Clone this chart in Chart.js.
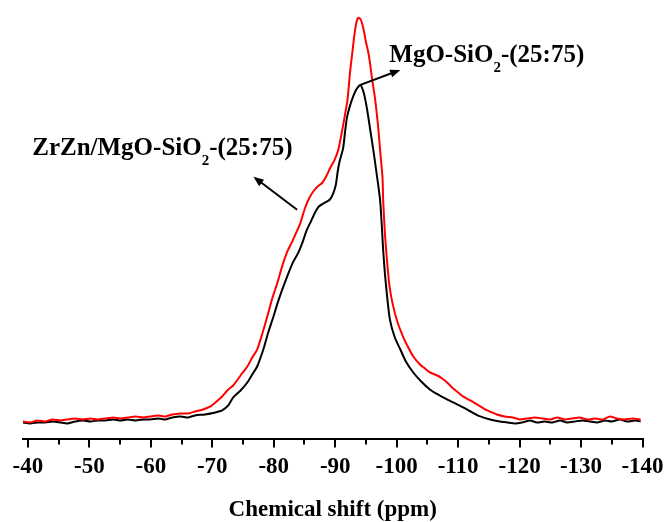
<!DOCTYPE html>
<html>
<head>
<meta charset="utf-8">
<script src="https://cdn.jsdelivr.net/npm/chart.js@4.4.1/dist/chart.umd.min.js"></script>
<style>
  html, body { margin: 0; padding: 0; background: #fff; }
  canvas { display: block; }
</style>
</head>
<body>
<canvas id="nmrChart" width="666" height="522"></canvas>
<script>
// tick labels on the chemical shift axis (ppm)
const majorTicks = [-40, -50, -60, -70, -80, -90, -100, -110, -120, -130, -140]
const minorTicks = [-45, -55, -65, -75, -85, -95, -105, -115, -125, -135]

// ZrZn/MgO-SiO2-(25:75), red trace
const redShift = [-39.1, -40.4, -41.5, -42.8, -44.0, -45.3, -46.4, -47.7, -48.9, -50.2, -51.3, -52.6, -53.9, -55.0, -56.3, -57.5, -58.8, -59.9, -61.2, -62.4, -63.5, -64.8, -66.1, -67.2, -68.5, -69.7, -70.7, -71.6, -72.6, -73.4, -74.6, -75.7, -76.5, -77.3, -78.1, -78.9, -79.7, -80.6, -81.4, -82.2, -83.0, -83.8, -84.3, -85.1, -85.8, -86.4, -87.1, -87.9, -88.5, -89.2, -89.9, -90.5, -91.0, -91.5, -92.0, -92.4, -92.8, -93.1, -93.4, -93.7, -94.1, -94.4, -94.7, -95.0, -95.4, -95.7, -96.0, -96.4, -96.7, -97.0, -97.3, -97.7, -97.8, -98.1, -98.5, -98.8, -99.3, -100.1, -101.1, -101.9, -102.7, -103.8, -104.6, -105.4, -106.6, -107.4, -108.2, -109.2, -110.0, -110.8, -112.0, -112.8, -113.6, -114.7, -115.5, -116.3, -117.6, -118.9, -120.0, -121.2, -122.5, -123.7, -125.0, -126.1, -127.4, -128.5, -129.8, -131.0, -132.3, -133.6, -134.7, -135.8, -137.1, -138.4, -139.7]
const redIntensity = [1, 0, 2, 1, 3, 2, 3, 4, 3, 4, 3, 4, 5, 4, 5, 6, 5, 6, 7, 6, 8, 9, 9, 11, 13, 16, 21, 26, 33, 37, 47, 56, 65, 73, 88, 105, 123, 140, 157, 171, 181, 192, 199, 215, 225, 231, 236, 240, 246, 255, 263, 273, 288, 305, 323, 350, 371, 387, 399, 405, 404, 399, 391, 381, 370, 358, 344, 328, 313, 295, 273, 245, 223, 188, 157, 138, 120, 101, 85, 75, 66, 58, 54, 50, 47, 44, 40, 34, 30, 26, 22, 19, 16, 12, 10, 8, 6, 5, 3, 4, 5, 4, 3, 5, 3, 4, 5, 3, 4, 3, 6, 4, 3, 4, 3]

// MgO-SiO2-(25:75), black trace
const blackShift = [-39.1, -40.4, -41.5, -42.8, -44.0, -45.3, -46.4, -47.7, -48.9, -50.2, -51.3, -52.6, -53.9, -55.0, -56.3, -57.5, -58.8, -59.9, -61.2, -62.4, -63.5, -64.8, -66.1, -67.2, -68.8, -70.5, -71.6, -72.6, -73.4, -74.6, -75.7, -76.5, -77.3, -78.3, -79.1, -79.9, -80.7, -81.5, -82.3, -83.1, -84.0, -84.6, -85.4, -86.1, -86.7, -87.3, -88.0, -88.6, -89.1, -89.6, -90.1, -90.4, -90.7, -91.3, -91.6, -91.9, -92.4, -92.9, -93.4, -94.1, -94.6, -94.9, -95.2, -95.7, -96.2, -96.7, -97.3, -97.6, -97.8, -98.1, -98.5, -98.9, -99.7, -100.6, -101.5, -102.7, -104.0, -105.4, -106.7, -108.2, -109.5, -110.8, -112.3, -113.6, -115.2, -116.8, -118.0, -119.3, -120.4, -121.7, -122.8, -124.1, -125.3, -126.6, -127.7, -129.0, -130.2, -131.5, -132.6, -133.9, -135.0, -136.3, -137.5, -138.8, -139.7]
const blackIntensity = [0, -1, 0, 0, 1, 0, -1, 1, 2, 1, 2, 2, 3, 2, 3, 2, 3, 3, 4, 3, 5, 6, 5, 7, 8, 10, 12, 17, 25, 32, 40, 48, 56, 73, 90, 105, 121, 135, 148, 160, 170, 179, 193, 202, 210, 216, 219, 221, 223, 228, 238, 251, 261, 275, 291, 305, 317, 326, 333, 338, 331, 323, 313, 293, 273, 251, 223, 195, 173, 148, 123, 103, 85, 73, 61, 50, 41, 33, 28, 23, 19, 15, 10, 6, 3, 1, 0, -1, 0, 2, 0, 1, 0, 2, 0, 1, 2, 1, 0, 2, 1, 3, 1, 2, 1]

// annotation labels: [main, subscript, tail], anchored in data units
const labelParts = [
  ['ZrZn/MgO-SiO', '2', '-(25:75)'],
  ['MgO-SiO', '2', '-(25:75)']
]
const labelAnchors = [[-40.7, 268], [-98.8, 361]]
// arrows: [fromShift, fromIntensity, toShift, toIntensity]
const arrows = [
  [-83.8, 213, -76.7, 246],
  [-94.1, 338, -100.6, 353]
]

const serif = '"Liberation Serif", "Times New Roman", serif'

const toPoints = (xs, ys) => xs.map((v, i) => ({ x: v, y: ys[i] }))

const minorTickPlugin = {
  id: 'minorTicks',
  afterDraw(chart) {
    const { ctx, chartArea, scales: { x } } = chart
    ctx.save()
    ctx.strokeStyle = '#000'
    ctx.lineWidth = 2
    minorTicks.forEach(v => {
      const px = Math.round(x.getPixelForValue(v))
      ctx.beginPath()
      ctx.moveTo(px, chartArea.bottom)
      ctx.lineTo(px, chartArea.bottom + 5)
      ctx.stroke()
    })
    ctx.restore()
  }
}

function drawArrow(ctx, x1, y1, x2, y2) {
  const ang = Math.atan2(y2 - y1, x2 - x1)
  const head = 11
  ctx.beginPath()
  ctx.moveTo(x1, y1)
  ctx.lineTo(x2 - Math.cos(ang) * head * 0.8, y2 - Math.sin(ang) * head * 0.8)
  ctx.stroke()
  ctx.beginPath()
  ctx.moveTo(x2, y2)
  ctx.lineTo(x2 - head * Math.cos(ang - 0.38), y2 - head * Math.sin(ang - 0.38))
  ctx.lineTo(x2 - head * Math.cos(ang + 0.38), y2 - head * Math.sin(ang + 0.38))
  ctx.closePath()
  ctx.fill()
}

const annotationPlugin = {
  id: 'annotations',
  afterDatasetsDraw(chart) {
    const { ctx, scales: { x, y } } = chart
    ctx.save()
    ctx.fillStyle = '#000'
    ctx.strokeStyle = '#000'
    ctx.lineWidth = 2
    arrows.forEach(a => {
      drawArrow(ctx, x.getPixelForValue(a[0]), y.getPixelForValue(a[1]),
        x.getPixelForValue(a[2]), y.getPixelForValue(a[3]))
    })
    ctx.textBaseline = 'alphabetic'
    ctx.textAlign = 'left'
    labelParts.forEach((parts, i) => {
      let px = x.getPixelForValue(labelAnchors[i][0])
      const py = y.getPixelForValue(labelAnchors[i][1])
      ctx.font = 'bold 25px ' + serif
      ctx.fillText(parts[0], px, py)
      px += ctx.measureText(parts[0]).width
      ctx.font = 'bold 15px ' + serif
      ctx.fillText(parts[1], px, py + 10)
      px += ctx.measureText(parts[1]).width
      ctx.font = 'bold 25px ' + serif
      ctx.fillText(parts[2], px, py)
    })
    ctx.restore()
  }
}

new Chart(document.getElementById('nmrChart'), {
  type: 'line',
  data: {
    datasets: [
      {
        label: 'ZrZn/MgO-SiO₂-(25:75)',
        data: toPoints(redShift, redIntensity),
        borderColor: '#ff0000',
        borderWidth: 2,
        pointRadius: 0,
        tension: 0.2
      },
      {
        label: 'MgO-SiO₂-(25:75)',
        data: toPoints(blackShift, blackIntensity),
        borderColor: '#000000',
        borderWidth: 2,
        pointRadius: 0,
        tension: 0.2
      }
    ]
  },
  options: {
    responsive: false,
    animation: false,
    events: [],
    layout: { padding: { left: 23, right: 23.5, top: 10, bottom: 0 } },
    plugins: {
      legend: { display: false },
      tooltip: { enabled: false }
    },
    scales: {
      x: {
        type: 'linear',
        reverse: true,
        min: -140,
        max: -39.2,
        afterBuildTicks: scale => { scale.ticks = majorTicks.map(v => ({ value: v })) },
        afterFit: scale => { scale.paddingLeft = 0; scale.paddingRight = 0 },
        ticks: {
          includeBounds: false,
          autoSkip: false,
          maxRotation: 0,
          padding: 6,
          color: '#000',
          font: { family: serif, size: 23, weight: 'bold' }
        },
        grid: {
          drawOnChartArea: false,
          drawTicks: true,
          tickLength: 8,
          color: '#000',
          lineWidth: 2
        },
        border: { display: true, color: '#000', width: 2 },
        title: {
          display: true,
          text: 'Chemical shift (ppm)',
          color: '#000',
          padding: { top: 12, bottom: 0 },
          font: { family: serif, size: 23, weight: 'bold', lineHeight: 1 }
        }
      },
      y: {
        display: false,
        min: -17,
        max: 413
      }
    }
  },
  plugins: [minorTickPlugin, annotationPlugin]
})
</script>
</body>
</html>
